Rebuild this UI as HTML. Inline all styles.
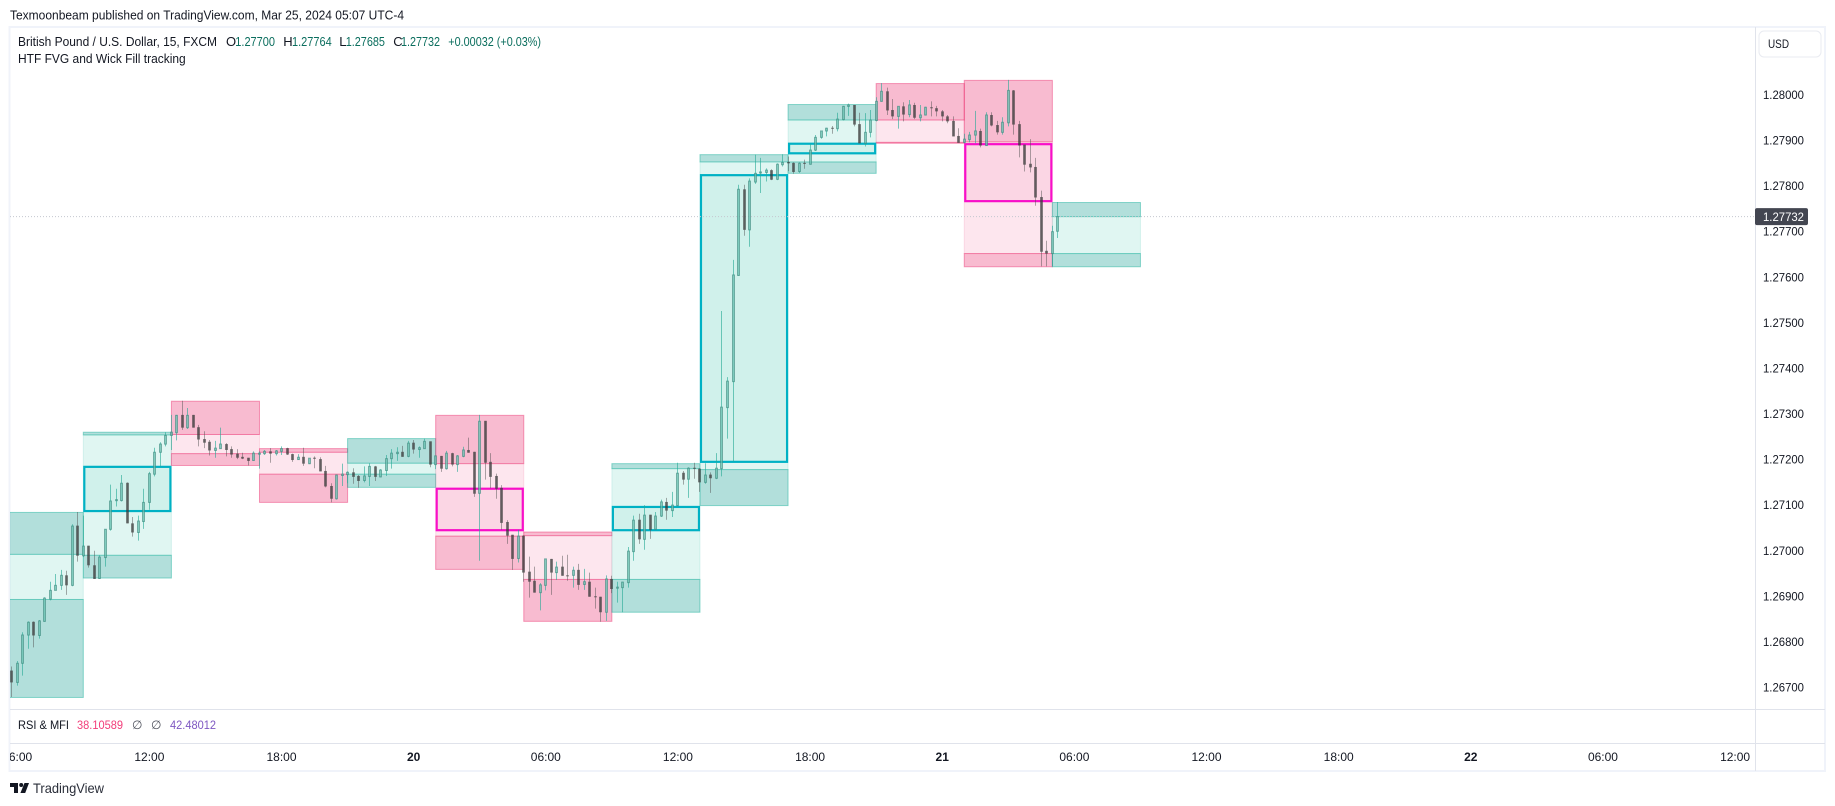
<!DOCTYPE html>
<html lang="en">
<head>
<meta charset="utf-8">
<title>GBPUSD HTF FVG and Wick Fill tracking</title>
<style>
html,body{margin:0;padding:0;background:#fff;width:1835px;height:806px;overflow:hidden}
svg{display:block}
text{font-family:"Liberation Sans",sans-serif;fill:#131722;font-size:12px}
.big{font-size:13px}
</style>
</head>
<body>
<svg id="chart" xmlns="http://www.w3.org/2000/svg" width="1835" height="806" viewBox="0 0 1835 806">
  <defs><clipPath id="pane-clip"><rect x="10" y="28" width="1745" height="681"/></clipPath>
  <clipPath id="time-clip"><rect x="10" y="744" width="1745" height="26"/></clipPath></defs>

  <text class="big" x="10" y="19.5" textLength="394" lengthAdjust="spacingAndGlyphs">Texmoonbeam published on TradingView.com, Mar 25, 2024 05:07 UTC-4</text>

  <rect x="9.5" y="27" width="1815.5" height="744" fill="none" stroke="#f0f3fa" stroke-width="2"/>
  <g id="pane" clip-path="url(#pane-clip)"></g>

  <line x1="10" x2="1825" y1="709.5" y2="709.5" stroke="#e0e3eb"/>
  <line x1="10" x2="1825" y1="743.5" y2="743.5" stroke="#e0e3eb"/>
  <line x1="1755.5" x2="1755.5" y1="27" y2="771" stroke="#e0e3eb"/>

  <g id="price-axis"></g>
  <g id="time-axis" clip-path="url(#time-clip)"></g>

  <g>
    <text class="big" x="18" y="46" textLength="199" lengthAdjust="spacingAndGlyphs">British Pound / U.S. Dollar, 15, FXCM</text>
    <text class="big" x="226" y="46">O</text>
    <text class="big" x="235.3" y="46" style="fill:#0b6e5e" textLength="39.7" lengthAdjust="spacingAndGlyphs">1.27700</text>
    <text class="big" x="283.3" y="46">H</text>
    <text class="big" x="292" y="46" style="fill:#0b6e5e" textLength="39.7" lengthAdjust="spacingAndGlyphs">1.27764</text>
    <text class="big" x="339.3" y="46">L</text>
    <text class="big" x="345.7" y="46" style="fill:#0b6e5e" textLength="39.3" lengthAdjust="spacingAndGlyphs">1.27685</text>
    <text class="big" x="393.3" y="46">C</text>
    <text class="big" x="401" y="46" style="fill:#0b6e5e" textLength="39" lengthAdjust="spacingAndGlyphs">1.27732</text>
    <text class="big" x="448.3" y="46" style="fill:#0b6e5e" textLength="92.7" lengthAdjust="spacingAndGlyphs">+0.00032 (+0.03%)</text>
    <text class="big" x="18" y="63" textLength="167.7" lengthAdjust="spacingAndGlyphs">HTF FVG and Wick Fill tracking</text>
  </g>

  <g>
    <text x="18" y="729" textLength="51" lengthAdjust="spacingAndGlyphs">RSI &amp; MFI</text>
    <text x="77" y="729" style="fill:#f23d7a" textLength="46" lengthAdjust="spacingAndGlyphs">38.10589</text>
    <text x="132" y="729" style="fill:#50535e">∅</text>
    <text x="151" y="729" style="fill:#50535e">∅</text>
    <text x="170" y="729" style="fill:#7e57c2" textLength="46" lengthAdjust="spacingAndGlyphs">42.48012</text>
  </g>

  <g>
    <rect x="1759" y="31" width="62" height="26" rx="5" fill="#fff" stroke="#e9ebf1"/>
    <text x="1768" y="48" textLength="21" lengthAdjust="spacingAndGlyphs">USD</text>
  </g>

  <g>
    <path d="M10 783h8v10h-4v-6h-4zM24.5 783h4.5l-3.8 10h-4.8z" fill="#131722"/>
    <circle cx="21.2" cy="785" r="2" fill="#131722"/>
    <text x="33" y="793" style="font-size:14px;fill:#2a2e39" textLength="71" lengthAdjust="spacingAndGlyphs">TradingView</text>
  </g>
</svg>

<script>
// ---- price-axis data ----
const priceTicks = [1.28,1.279,1.278,1.277,1.276,1.275,1.274,1.273,1.272,1.271,1.27,1.269,1.268,1.267];
const lastPrice = 1.27732;
// ---- time-axis data ----
const timeLabels = ["06:00","12:00","18:00","20","06:00","12:00","18:00","21","06:00","12:00","18:00","22","06:00","12:00"];
const timeBars = [-12,12,36,60,84,108,132,156,180,204,228,252,276,300];
// ---- 15-minute candles, first bar index -13 ----
const firstBar = -13;
const opens = [
1.26736,1.26710,1.26752,1.26814,1.26843,1.26813,1.26844,1.26893,1.26912,1.26923,
1.26945,1.26923,1.27054,1.26988,1.27010,1.26967,1.26938,1.26984,1.27046,1.27109,
1.27109,1.27148,1.27059,1.27039,1.27063,1.27105,1.27167,1.27215,1.27233,1.27252,
1.27258,1.27297,1.27269,1.27297,1.27270,1.27244,1.27238,1.27219,1.27223,1.27233,
1.27222,1.27212,1.27205,1.27203,1.27197,1.27212,1.27212,1.27217,1.27212,1.27217,
1.27224,1.27211,1.27199,1.27205,1.27190,1.27203,1.27200,1.27174,1.27141,1.27113,
1.27164,1.27166,1.27171,1.27163,1.27153,1.27162,1.27184,1.27161,1.27175,1.27201,
1.27212,1.27216,1.27206,1.27236,1.27221,1.27223,1.27239,1.27188,1.27207,1.27179,
1.27213,1.27188,1.27206,1.27220,1.27216,1.27125,1.27284,1.27194,1.27163,1.27137,
1.27062,1.27034,1.26982,1.27032,1.26953,1.26933,1.26907,1.26923,1.26981,1.26951,
1.26964,1.26945,1.26945,1.26957,1.26925,1.26931,1.26899,1.26898,1.26864,1.26937,
1.26918,1.26918,1.26929,1.26997,1.27067,1.27024,1.27078,1.27046,1.27075,1.27106,
1.27087,1.27098,1.27170,1.27156,1.27181,1.27179,1.27149,1.27166,1.27158,1.27179,
1.27313,1.27370,1.27603,1.27792,1.27703,1.27808,1.27828,1.27829,1.27834,1.27814,
1.27846,1.27852,1.27850,1.27831,1.27850,1.27847,1.27878,1.27906,1.27920,1.27927,
1.27925,1.27945,1.27974,1.27977,1.27935,1.27893,1.27917,1.27943,1.27985,1.28007,
1.27966,1.27952,1.27974,1.27956,1.27977,1.27949,1.27955,1.27972,1.27970,1.27963,
1.27952,1.27942,1.27909,1.27895,1.27901,1.27911,1.27920,1.27888,1.27955,1.27933,
1.27917,1.27938,1.28009,1.27935,1.27890,1.27848,1.27841,1.27775,1.27657,1.27651,1.27700];
const highs = [
1.26745,1.26757,1.26820,1.26844,1.26844,1.26847,1.26897,1.26931,1.26948,1.26957,
1.26955,1.27057,1.27084,1.27076,1.27010,1.26999,1.26989,1.27046,1.27144,1.27135,
1.27165,1.27149,1.27073,1.27076,1.27135,1.27172,1.27225,1.27237,1.27259,1.27297,
1.27297,1.27328,1.27312,1.27297,1.27275,1.27261,1.27242,1.27240,1.27269,1.27235,
1.27228,1.27222,1.27214,1.27203,1.27217,1.27217,1.27220,1.27224,1.27220,1.27228,
1.27225,1.27212,1.27211,1.27225,1.27202,1.27206,1.27204,1.27185,1.27147,1.27166,
1.27190,1.27173,1.27180,1.27165,1.27184,1.27191,1.27185,1.27178,1.27209,1.27222,
1.27226,1.27229,1.27240,1.27242,1.27228,1.27245,1.27239,1.27207,1.27207,1.27218,
1.27214,1.27209,1.27227,1.27247,1.27216,1.27297,1.27284,1.27213,1.27168,1.27143,
1.27066,1.27034,1.27045,1.27033,1.26986,1.26964,1.26928,1.26981,1.26981,1.26975,
1.26988,1.26990,1.26964,1.26970,1.26959,1.26951,1.26918,1.26898,1.26945,1.26944,
1.26931,1.26931,1.27007,1.27076,1.27080,1.27099,1.27078,1.27084,1.27111,1.27115,
1.27128,1.27192,1.27174,1.27182,1.27192,1.27180,1.27191,1.27171,1.27213,1.27525,
1.27380,1.27637,1.27802,1.27802,1.27816,1.27868,1.27861,1.27838,1.27836,1.27849,
1.27869,1.27864,1.27851,1.27851,1.27857,1.27891,1.27911,1.27920,1.27927,1.27931,
1.27960,1.27975,1.27980,1.27977,1.27960,1.27959,1.27966,1.27994,1.28025,1.28015,
1.27990,1.27974,1.27983,1.27988,1.27982,1.27977,1.27973,1.27985,1.27975,1.27966,
1.27955,1.27952,1.27926,1.27914,1.27918,1.27964,1.27925,1.27961,1.27961,1.27942,
1.27950,1.28032,1.28010,1.27942,1.27890,1.27902,1.27861,1.27789,1.27679,1.27712,1.27764];
const lows = [
1.26678,1.26703,1.26725,1.26784,1.26787,1.26806,1.26843,1.26890,1.26912,1.26913,
1.26902,1.26921,1.26975,1.26985,1.26962,1.26937,1.26937,1.26964,1.27043,1.27096,
1.27107,1.27059,1.27030,1.27021,1.27047,1.27089,1.27162,1.27184,1.27228,1.27220,
1.27241,1.27264,1.27266,1.27269,1.27228,1.27224,1.27208,1.27203,1.27223,1.27206,
1.27203,1.27200,1.27200,1.27186,1.27196,1.27179,1.27209,1.27192,1.27208,1.27209,
1.27209,1.27194,1.27198,1.27185,1.27189,1.27180,1.27173,1.27138,1.27105,1.27111,
1.27141,1.27147,1.27146,1.27137,1.27149,1.27141,1.27152,1.27160,1.27163,1.27179,
1.27196,1.27205,1.27204,1.27212,1.27203,1.27223,1.27182,1.27178,1.27172,1.27177,
1.27184,1.27172,1.27204,1.27214,1.27117,1.26977,1.27155,1.27136,1.27113,1.27045,
1.27014,1.26957,1.26973,1.26931,1.26896,1.26907,1.26868,1.26912,1.26902,1.26935,
1.26944,1.26933,1.26918,1.26913,1.26913,1.26898,1.26872,1.26843,1.26845,1.26906,
1.26885,1.26864,1.26918,1.26977,1.27014,1.27001,1.27025,1.27045,1.27073,1.27067,
1.27073,1.27096,1.27144,1.27115,1.27157,1.27128,1.27146,1.27126,1.27156,1.27162,
1.27245,1.27195,1.27602,1.27690,1.27666,1.27804,1.27784,1.27809,1.27812,1.27812,
1.27842,1.27832,1.27826,1.27828,1.27837,1.27846,1.27876,1.27903,1.27908,1.27914,
1.27919,1.27943,1.27953,1.27930,1.27893,1.27886,1.27906,1.27941,1.27984,1.27955,
1.27946,1.27925,1.27941,1.27950,1.27946,1.27941,1.27954,1.27952,1.27952,1.27941,
1.27937,1.27908,1.27894,1.27893,1.27895,1.27893,1.27884,1.27887,1.27930,1.27912,
1.27912,1.27930,1.27912,1.27862,1.27831,1.27829,1.27756,1.27623,1.27623,1.27623,1.27685];
const closes = [
1.26710,1.26752,1.26814,1.26842,1.26813,1.26845,1.26895,1.26912,1.26923,1.26945,
1.26923,1.27053,1.26988,1.27009,1.26967,1.26937,1.26985,1.27046,1.27108,1.27111,
1.27147,1.27059,1.27039,1.27064,1.27105,1.27168,1.27215,1.27233,1.27252,1.27259,
1.27296,1.27269,1.27296,1.27269,1.27243,1.27236,1.27219,1.27224,1.27233,1.27220,
1.27210,1.27203,1.27201,1.27196,1.27213,1.27213,1.27217,1.27212,1.27218,1.27223,
1.27210,1.27198,1.27204,1.27190,1.27202,1.27201,1.27173,1.27140,1.27113,1.27165,
1.27167,1.27171,1.27161,1.27152,1.27163,1.27184,1.27161,1.27176,1.27201,1.27213,
1.27215,1.27205,1.27235,1.27221,1.27225,1.27239,1.27188,1.27207,1.27179,1.27213,
1.27188,1.27207,1.27220,1.27214,1.27124,1.27283,1.27192,1.27161,1.27135,1.27060,
1.27032,1.26981,1.27031,1.26951,1.26931,1.26907,1.26924,1.26981,1.26951,1.26963,
1.26944,1.26944,1.26956,1.26924,1.26931,1.26898,1.26898,1.26864,1.26937,1.26915,
1.26919,1.26930,1.26998,1.27066,1.27024,1.27077,1.27045,1.27075,1.27106,1.27087,
1.27099,1.27169,1.27155,1.27180,1.27180,1.27149,1.27165,1.27158,1.27180,1.27314,
1.27371,1.27604,1.27792,1.27703,1.27810,1.27827,1.27830,1.27834,1.27813,1.27847,
1.27851,1.27849,1.27830,1.27849,1.27849,1.27878,1.27906,1.27920,1.27926,1.27925,
1.27946,1.27974,1.27977,1.27934,1.27893,1.27917,1.27944,1.27985,1.28007,1.27965,
1.27952,1.27974,1.27956,1.27977,1.27949,1.27955,1.27972,1.27971,1.27963,1.27952,
1.27941,1.27908,1.27894,1.27902,1.27911,1.27920,1.27888,1.27955,1.27932,1.27917,
1.27939,1.28009,1.27934,1.27888,1.27846,1.27840,1.27774,1.27655,1.27651,1.27699,1.27732];
// ---- 4-hour candles drawn as boxes ----
const htfBars = [-16,0,16,32,48,64,80,96,112,128,144,160,176];
const htfOpens = [1.26892,1.26989,1.27254,1.27215,1.27167,1.27190,1.27032,1.26936,1.27177,1.27852,1.27944,1.27896,1.27651];
const htfHighs = [1.27083,1.27259,1.27327,1.27223,1.27245,1.27296,1.27040,1.27190,1.27868,1.27978,1.28024,1.28031,1.27763];
const htfLows = [1.26677,1.26939,1.27186,1.27105,1.27138,1.26958,1.26844,1.26864,1.27098,1.27827,1.27893,1.27622,1.27622];
const htfCloses = [1.26991,1.27253,1.27212,1.27167,1.27191,1.27031,1.26936,1.27179,1.27852,1.27944,1.27895,1.27651,1.27732];
// ---- fair value gaps on the higher timeframe ----
const fvgBars = [0,64,96,112,128,160];
const fvgTops = [1.27183,1.27135,1.27095,1.27823,1.27892,1.27891];
const fvgBottoms = [1.27086,1.27044,1.27044,1.27194,1.27871,1.27766];

const SVGNS = 'http://www.w3.org/2000/svg';
const barsPerBox = 16;
function xScale(bar){ return 83.3 + bar * 5.506; }
function yScale(price){ return 94.5 + (1.28 - price) * 45575; }
function make(tag, attrs, parent){
  const node = document.createElementNS(SVGNS, tag);
  for (const k in attrs) node.setAttribute(k, attrs[k]);
  parent.appendChild(node);
  return node;
}

const pane = document.getElementById('pane');
const priceAxis = document.getElementById('price-axis');
const timeAxis = document.getElementById('time-axis');

// HTF boxes
function drawZone(x1, x2, top, bottom, fill, stroke, name){
  const y1 = yScale(top), y2 = yScale(bottom);
  const r = make('rect', {x:x1, y:y1, width:x2-x1, height:Math.max(y2-y1,0.5), fill:fill, stroke:stroke, 'stroke-width':1}, pane);
  
  
}
htfBars.forEach(function(bar, i){
  const up = htfCloses[i] >= htfOpens[i];
  const x1 = xScale(bar), x2 = xScale(bar + barsPerBox);
  const bodyTop = Math.max(htfOpens[i], htfCloses[i]);
  const bodyBot = Math.min(htfOpens[i], htfCloses[i]);
  const dark = up ? 'rgba(0,150,136,0.3)' : 'rgba(233,30,99,0.3)';
  const light = up ? 'rgba(0,180,150,0.12)' : 'rgba(233,30,99,0.11)';
  const edge = up ? 'rgba(0,170,145,0.42)' : 'rgba(233,30,99,0.42)';
  const faint = up ? 'rgba(0,170,145,0.12)' : 'rgba(233,30,99,0.12)';
  drawZone(x1, x2, bodyTop, bodyBot, light, faint, 'htf-body-' + i);
  drawZone(x1, x2, htfHighs[i], bodyTop, dark, edge, 'htf-upper-wick-' + i);
  drawZone(x1, x2, bodyBot, htfLows[i], dark, edge, 'htf-lower-wick-' + i);
});

// FVG outlines
fvgBars.forEach(function(bar, i){
  const up = bar !== 64 && bar !== 160;
  const y1 = yScale(fvgTops[i]), y2 = yScale(fvgBottoms[i]);
  const x1 = xScale(bar) + 1, x2 = xScale(bar + barsPerBox) - 1;
  const r = make('rect', {x:x1, y:y1, width:x2-x1, height:y2-y1,
    fill: up ? 'rgba(0,188,160,0.07)' : 'rgba(233,30,120,0.08)',
    stroke: up ? '#00b1c4' : '#f80fc8', 'stroke-width':2.2}, pane);
  
  
});

// last price line
const lastLine = make('line', {x1:10, x2:1755, y1:yScale(lastPrice), y2:yScale(lastPrice), stroke:'#c4c7cf', 'stroke-width':1, 'stroke-dasharray':'1 2'}, pane);



// candles
opens.forEach(function(open, idx){
  const bar = firstBar + idx;
  const c = Math.round(xScale(bar) - 0.5);
  const close = closes[idx];
  const up = close >= open;
  const wick = make('line', {x1:c+0.5, x2:c+0.5, y1:yScale(highs[idx]), y2:yScale(lows[idx]),
    stroke: up ? 'rgba(38,170,150,0.62)' : 'rgba(80,80,80,0.48)', 'stroke-width':1}, pane);
  
  
  const yTop = yScale(Math.max(open, close)), yBot = yScale(Math.min(open, close));
  const body = up
    ? make('rect', {x:c-0.5, y:yTop, width:2, height:Math.max(yBot-yTop,1), fill:'rgba(150,210,198,0.45)', stroke:'rgba(60,140,128,0.65)', 'stroke-width':1}, pane)
    : make('rect', {x:c-1, y:yTop, width:3, height:Math.max(yBot-yTop,1), fill:'rgba(55,55,55,0.62)'}, pane);
  
  
});

// price axis
priceTicks.forEach(function(p){
  const t = make('text', {x:1763, y:yScale(p)+4.5, textLength:41, lengthAdjust:'spacingAndGlyphs'}, priceAxis);
  t.textContent = p.toFixed(5);
  
  
});
const lastBg = make('rect', {x:1755, y:yScale(lastPrice)-8.5, width:53, height:17, rx:2, fill:'#434651'}, priceAxis);


const lastText = make('text', {x:1763, y:yScale(lastPrice)+4.5, style:'fill:#fff', textLength:41, lengthAdjust:'spacingAndGlyphs'}, priceAxis);
lastText.textContent = lastPrice.toFixed(5);



// time axis
timeLabels.forEach(function(label, i){
  const isDay = label.length === 2;
  const t = make('text', {x:xScale(timeBars[i]), y:761, 'text-anchor':'middle', style: isDay ? 'font-weight:bold' : ''}, timeAxis);
  t.textContent = label;
  
  
});
</script>
</body>
</html>
